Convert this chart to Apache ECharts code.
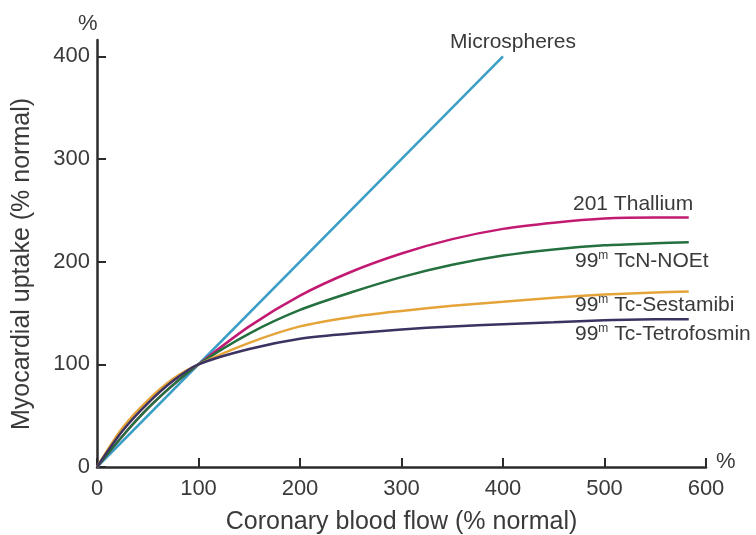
<!DOCTYPE html>
<html>
<head>
<meta charset="utf-8">
<script src="https://cdn.jsdelivr.net/npm/echarts@6/dist/echarts.min.js"></script>
<style>
  html, body { margin: 0; padding: 0; background: #fff; }
  #chart { width: 756px; height: 535px; }
</style>
</head>
<body>
<div id="chart"></div>
<script>
// coronary flow (% normal) and uptake (% normal)
var flow = [0, 25, 50, 75, 100, 150, 200, 250, 300, 350, 400, 450, 500, 550, 583]
var thallium = [0, 30, 57, 80, 100, 137, 167, 190, 208, 222, 232, 238, 242, 243, 243]
var noet = [0, 30, 57, 80, 100, 130, 153, 170, 185, 197, 206, 212, 216, 218, 219]
var sestamibi = [0, 38, 65, 86, 100, 121, 137, 146, 152, 157, 161, 165, 168, 170, 171]
var tetrofosmin = [0, 35, 62, 84, 100, 115, 125, 130, 134, 137, 139, 141, 143, 144, 144]
var microFlow = [0, 400]
var microspheres = [0, 400]

var xTicks = [0, 100, 200, 300, 400, 500, 600]
var yTicks = [0, 100, 200, 300, 400]

function pairs(xs, ys) {
  return xs.map(function (x, i) { return [x, ys[i]] })
}

var textColor = '#3a3a3a'
var font = 'Liberation Sans'
var sup = { fontSize: 12, verticalAlign: 'top', lineHeight: 22, fill: textColor }

function curve(name, color, xs, ys) {
  return {
    name: name,
    type: 'line',
    data: pairs(xs, ys),
    smooth: 0.3,
    showSymbol: false,
    lineStyle: { color: color, width: 2.5 },
    z: 2
  }
}

var chart = echarts.init(document.getElementById('chart'))
chart.setOption({
  animation: false,
  backgroundColor: '#fff',
  textStyle: { fontFamily: font },
  grid: { left: 97, right: 50, top: 40, bottom: 68, outerBoundsMode: 'none', containLabel: false },
  xAxis: {
    type: 'value',
    min: 0,
    max: 600,
    interval: 100,
    name: 'Coronary blood flow (% normal)',
    nameLocation: 'middle',
    nameGap: 43,
    nameTextStyle: { color: textColor, fontSize: 25, fontFamily: font },
    axisLine: { lineStyle: { color: '#2b2b2b', width: 2.5 } },
    axisTick: { inside: true, length: 9, lineStyle: { color: '#2b2b2b', width: 2 } },
    axisLabel: { color: textColor, fontSize: 22, margin: 11, fontFamily: font },
    splitLine: { show: false }
  },
  yAxis: {
    type: 'value',
    min: 0,
    max: 416,
    axisLine: { show: true, lineStyle: { color: '#2b2b2b', width: 2.5 } },
    axisTick: { inside: true, length: 9, customValues: yTicks, lineStyle: { color: '#2b2b2b', width: 2 } },
    axisLabel: { color: textColor, fontSize: 22, margin: 7, customValues: yTicks, fontFamily: font },
    splitLine: { show: false }
  },
  graphic: [
    {
      type: 'text', x: 22, y: 264, rotation: Math.PI / 2,
      style: { text: 'Myocardial uptake (% normal)', font: '25px ' + font, fill: textColor, textAlign: 'center', textVerticalAlign: 'middle' }
    },
    { type: 'text', left: 78, top: 13, style: { text: '%', font: '22px ' + font, fill: textColor } },
    { type: 'text', left: 716, top: 451, style: { text: '%', font: '22px ' + font, fill: textColor } },
    { type: 'text', left: 450, top: 32, style: { text: 'Microspheres', font: '21px ' + font, fill: textColor } },
    { type: 'text', left: 573, top: 194, style: { text: '201 Thallium', font: '21px ' + font, fill: textColor } },
    {
      type: 'text', left: 575, top: 250,
      style: { text: '99{sup|m} TcN-NOEt', font: '21px ' + font, fill: textColor, lineHeight: 22, rich: { sup: sup } }
    },
    {
      type: 'text', left: 575, top: 294,
      style: { text: '99{sup|m} Tc-Sestamibi', font: '21px ' + font, fill: textColor, lineHeight: 22, rich: { sup: sup } }
    },
    {
      type: 'text', left: 575, top: 323,
      style: { text: '99{sup|m} Tc-Tetrofosmin', font: '21px ' + font, fill: textColor, lineHeight: 22, rich: { sup: sup } }
    }
  ],
  series: [
    {
      name: 'Microspheres',
      type: 'line',
      data: pairs(microFlow, microspheres),
      showSymbol: false,
      lineStyle: { color: '#3b9ec6', width: 2.5 },
      z: 1
    },
    curve('201 Thallium', '#c21a72', flow, thallium),
    curve('99m TcN-NOEt', '#24703e', flow, noet),
    curve('99m Tc-Sestamibi', '#e5a43a', flow, sestamibi),
    curve('99m Tc-Tetrofosmin', '#3b3262', flow, tetrofosmin)
  ]
})
</script>
</body>
</html>
